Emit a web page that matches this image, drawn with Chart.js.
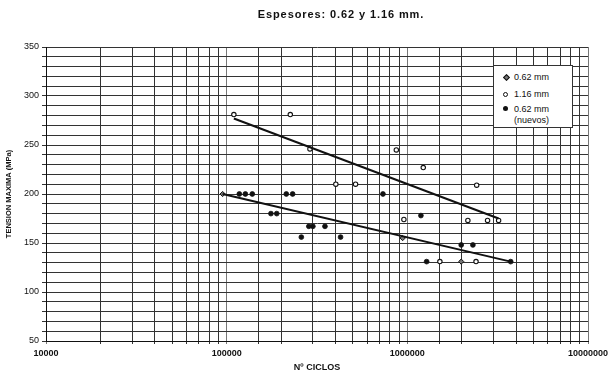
<!DOCTYPE html>
<html>
<head>
<meta charset="utf-8">
<script src="https://cdn.jsdelivr.net/npm/chart.js@4/dist/chart.umd.min.js"></script>
<style>
  body { margin: 0; background: #fff; font-family: "Liberation Sans", Arial, sans-serif; }
  #wrap { position: relative; width: 608px; height: 377px; }
  #title { position: absolute; left: 0; width: 682px; top: 8px; text-align: center;
           font-size: 11px; font-weight: bold; letter-spacing: 0.9px; color: #111; }
  #legend { position: absolute; left: 493px; top: 65px; width: 78px; height: 61px;
            border: 1px solid #333; background: #fff; font-size: 9px; color: #111; }
  .row { position: absolute; left: 20px; }
  .mk { position: absolute; left: -11px; top: 3px; }
</style>
</head>
<body>
<div id="wrap">
  <canvas id="fatigueChart" width="608" height="377"></canvas>
  <div id="title">Espesores: 0.62 y 1.16 mm.</div>
  <div id="legend">
    <div class="row" style="top:6px"><span class="mk" style="width:3px;height:3px;background:#777;border:1px solid #111;transform:rotate(45deg);left:-10px"></span>0.62 mm</div>
    <div class="row" style="top:23px"><span class="mk" style="width:3px;height:3px;border-radius:50%;background:#fff;border:1.2px solid #111"></span>1.16 mm</div>
    <div class="row" style="top:38px;line-height:11px"><span class="mk" style="width:5px;height:5px;border-radius:50%;background:#111;top:2px;left:-11px"></span>0.62 mm<br>(nuevos)</div>
  </div>
</div>
<script>
// 0.62 mm
const ciclos062 = [95000, 942000, 1987000];
const tension062 = [200, 155, 131];

// 1.16 mm
const ciclos116 = [109600, 225000, 289000, 869000, 402000, 517000, 957000, 1225000, 2420000, 2163000, 2780000, 3200000, 1514000, 2400000];
const tension116 = [281, 281, 246, 245, 210, 210, 174, 227, 209, 173, 173, 173, 131, 131];

// 0.62 mm (nuevos)
const ciclosNuevos = [117500, 126900, 138600, 213800, 231800, 175800, 189300, 285000, 300000, 350000, 259000, 427000, 733000, 1189000, 1987000, 2306000, 1279000, 3733000];
const tensionNuevos = [200, 200, 200, 200, 200, 180, 180, 167, 167, 167, 156, 156, 200, 178, 148, 148, 131, 131];

// trend lines
const ciclosAjuste116 = [109600, 3200000];
const tensionAjuste116 = [277, 175];
const ciclosAjuste062 = [95000, 3733000];
const tensionAjuste062 = [200, 131];

const xTicks = [10000, 100000, 1000000, 10000000];
const yTicks = [50, 100, 150, 200, 250, 300, 350];

const toPoints = (xs, ys) => xs.map((x, i) => ({ x: x, y: ys[i] }));

document.addEventListener("DOMContentLoaded", () => {
    const ctx = document.getElementById("fatigueChart").getContext("2d");
    new Chart(ctx, {
        type: "scatter",
        data: {
            datasets: [
                {
                    label: "ajuste 1.16",
                    data: toPoints(ciclosAjuste116, tensionAjuste116),
                    showLine: true, borderColor: "#111", borderWidth: 2, pointRadius: 0
                },
                {
                    label: "ajuste 0.62",
                    data: toPoints(ciclosAjuste062, tensionAjuste062),
                    showLine: true, borderColor: "#111", borderWidth: 2, pointRadius: 0
                },
                {
                    label: "0.62 mm",
                    data: toPoints(ciclos062, tension062),
                    pointStyle: "rectRot", pointRadius: 2.6,
                    backgroundColor: "#777", borderColor: "#111", borderWidth: 1
                },
                {
                    label: "1.16 mm",
                    data: toPoints(ciclos116, tension116),
                    pointRadius: 2.2,
                    backgroundColor: "#fff", borderColor: "#111", borderWidth: 1.1
                },
                {
                    label: "0.62 mm (nuevos)",
                    data: toPoints(ciclosNuevos, tensionNuevos),
                    pointRadius: 2.4,
                    backgroundColor: "#111", borderColor: "#111", borderWidth: 0.8
                }
            ]
        },
        options: {
            responsive: false,
            animation: false,
            layout: { padding: { top: 47, right: 20, left: 0, bottom: 0 } },
            plugins: {
                legend: { display: false },
                tooltip: { enabled: false }
            },
            scales: {
                x: {
                    type: "logarithmic",
                    min: 10000,
                    max: 10000000,
                    afterFit: (scale) => {
                        scale.height = 36;
                        scale.paddingRight = 0;
                        scale.paddingLeft = 0;
                    },
                    border: { color: "#111", width: 1 },
                    grid: {
                        color: (c) => xTicks.includes(c.tick && c.tick.value) ? "#777" : "#333",
                        tickLength: 3
                    },
                    ticks: {
                        autoSkip: false,
                        maxRotation: 0,
                        padding: 4,
                        color: "#111",
                        font: { family: "Liberation Sans", size: 9, weight: "bold" },
                        callback: (v) => xTicks.includes(v) ? String(v) : ""
                    },
                    title: {
                        display: true,
                        text: "Nº CICLOS",
                        color: "#111",
                        padding: { top: 2 },
                        font: { family: "Liberation Sans", size: 9, weight: "bold" }
                    }
                },
                y: {
                    min: 50,
                    max: 350,
                    afterFit: (scale) => { scale.width = 46; },
                    border: { color: "#111", width: 1 },
                    grid: { color: "#333", tickLength: 4 },
                    ticks: {
                        stepSize: 10,
                        autoSkip: false,
                        padding: 3,
                        color: "#111",
                        font: { family: "Liberation Sans", size: 9 },
                        callback: (v) => yTicks.includes(v) ? String(v) : ""
                    },
                    title: {
                        display: true,
                        text: "TENSION MAXIMA (MPa)",
                        color: "#111",
                        padding: { bottom: 3 },
                        font: { family: "Liberation Sans", size: 7.5, weight: "bold" }
                    }
                }
            }
        }
    });
});
</script>
</body>
</html>
